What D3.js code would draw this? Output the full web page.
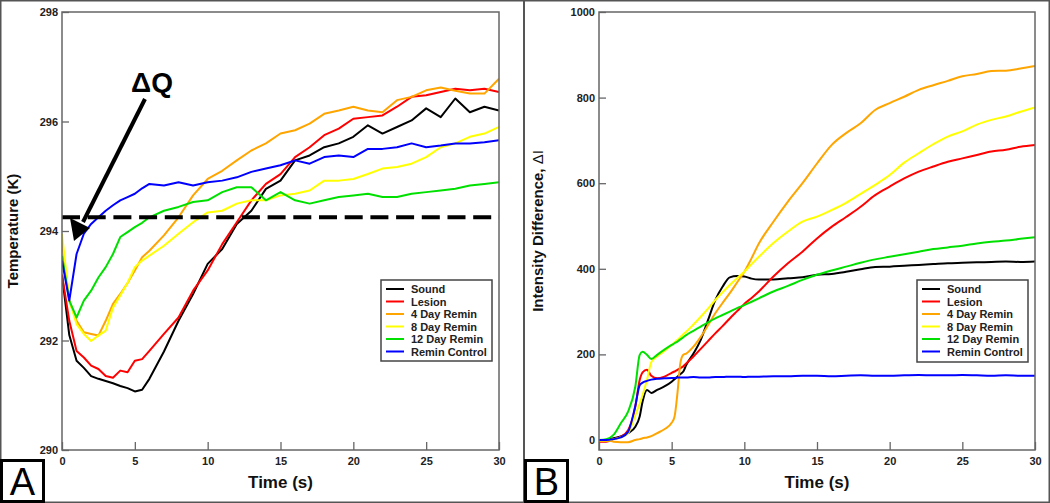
<!DOCTYPE html>
<html><head><meta charset="utf-8">
<script src="https://cdn.jsdelivr.net/npm/d3@7"></script>
<style>
html,body{margin:0;padding:0;background:#fff;}
svg{display:block;font-family:"Liberation Sans",Arial,sans-serif;}
</style></head><body>
<svg id="c" width="1050" height="503"></svg>
<script>
// ---------- DATA ----------
const seriesNames = ["Sound","Lesion","4 Day Remin","8 Day Remin","12 Day Remin","Remin Control"];
const seriesColors = ["#000000","#ff0000","#ffa500","#ffff00","#00e000","#0000ff"];
const xTicks = [0,5,10,15,20,25,30];
const yTicksA = [290,292,294,296,298];
const yTicksB = [0,200,400,600,800,1000];
const thresholdA = 294.25;

// Panel A: temperature (K) vs time (s)
const timeA = [0,0.5,1,1.5,2,2.5,3,3.5,4,4.5,5,5.5,6,7,8,9,10,11,12,13,14,15,16,17,18,19,20,21,22,23,24,25,26,27,28,29,30];
const soundA   = [293.2,292.1,291.63,291.5,291.35,291.3,291.26,291.22,291.17,291.13,291.07,291.1,291.3,291.8,292.36,292.85,293.4,293.67,294.13,294.37,294.77,294.92,295.29,295.38,295.53,295.6,295.72,295.93,295.78,295.9,296.02,296.24,296.08,296.42,296.17,296.27,296.2];
const lesionA  = [293.2,292.36,291.81,291.69,291.54,291.48,291.35,291.32,291.45,291.42,291.63,291.66,291.81,292.12,292.42,292.91,293.28,293.76,294.16,294.56,294.86,295.04,295.35,295.53,295.75,295.87,296.05,296.08,296.11,296.27,296.45,296.48,296.54,296.6,296.57,296.6,296.54];
const remin4A  = [293.8,292.73,292.36,292.15,292.12,292.09,292.36,292.67,292.85,293.05,293.28,293.52,293.64,293.92,294.25,294.65,294.95,295.1,295.29,295.47,295.6,295.78,295.84,295.96,296.14,296.2,296.27,296.2,296.17,296.39,296.45,296.57,296.62,296.56,296.51,296.51,296.78];
const remin8A  = [293.95,292.73,292.3,292.12,291.99,292.09,292.18,292.6,292.82,293.05,293.34,293.46,293.55,293.73,293.95,294.16,294.34,294.37,294.5,294.56,294.56,294.65,294.68,294.74,294.92,294.92,294.95,295.04,295.14,295.17,295.23,295.35,295.53,295.6,295.72,295.78,295.9];
const remin12A = [293.55,292.73,292.42,292.73,292.91,293.15,293.34,293.58,293.89,293.98,294.07,294.15,294.25,294.37,294.44,294.53,294.56,294.71,294.8,294.8,294.56,294.71,294.56,294.5,294.56,294.62,294.65,294.68,294.62,294.62,294.68,294.71,294.74,294.77,294.83,294.86,294.89];
const controlA = [293.46,292.73,293.58,293.95,294.13,294.25,294.37,294.47,294.56,294.62,294.68,294.78,294.86,294.83,294.89,294.83,294.89,294.92,294.98,295.08,295.14,295.2,295.29,295.23,295.35,295.38,295.35,295.5,295.5,295.53,295.6,295.53,295.56,295.6,295.6,295.62,295.66];

// Panel B: intensity difference vs time (s)
const timeB = [0,0.5,1,1.5,2,2.5,2.8,3,3.3,3.6,4,4.5,5,5.2,5.4,5.6,5.8,6,6.5,7,7.5,8,8.5,9,9.5,10,10.5,11,12,13,14,15,16,17,18,19,20,21,22,23,24,25,26,27,28,29,30];
const soundB   = [0,0,4,8,16,31,55,90,117,110,117,125,136,142,148,154,160,175,202,234,280,327,358,380,383,382,377,375,375,378,380,386,388,393,399,404,405,407,409,411,413,414,415,416,417,416,417];
const lesionB  = [-4,-4,2,8,23,78,140,158,164,150,144,148,157,160,164,168,172,179,195,213,231,249,266,284,301,318,332,347,382,413,440,471,498,521,545,572,592,611,627,639,650,658,666,674,678,685,689];
const remin4B  = [0,0,-4,-5,-5,0,2,4,6,9,16,25,40,55,110,180,199,202,218,241,268,296,320,343,368,393,425,459,510,557,600,646,689,717,740,771,787,802,818,829,839,850,855,862,863,868,874];
const remin8B  = [-2,-2,2,6,16,58,85,105,140,182,195,208,222,228,234,240,247,253,270,288,307,327,345,362,378,393,411,428,460,487,510,522,537,554,575,596,619,648,670,691,709,721,737,748,756,767,777];
const remin12B = [0,2,12,39,66,125,199,206,199,189,199,211,222,226,230,235,240,245,255,265,275,284,292,300,308,315,323,331,347,360,374,386,396,405,414,422,428,434,440,446,450,454,459,463,466,470,474];
const controlB = [0,0,2,6,19,80,128,134,138,141,143,144,145,145,146,146,146,146,147,146,146,147,147,148,148,147,148,148,149,149,150,150,149,150,151,150,150,151,152,151,151,152,151,150,151,150,150];

// ---------- DRAW ----------
const svg = d3.select("#c");
const FONT = '"Liberation Sans",Arial,sans-serif';

// outer border + separator
svg.append("rect").attr("x",0.75).attr("y",0.75).attr("width",1048.5).attr("height",501.5)
  .attr("fill","none").attr("stroke","#555").attr("stroke-width",1.5);
svg.append("line").attr("x1",524).attr("x2",524).attr("y1",0).attr("y2",503)
  .attr("stroke","#555").attr("stroke-width",2);

function panel(cfg){
  const g = svg.append("g");
  const x = d3.scaleLinear().domain([0,30]).range([cfg.left,cfg.right]);
  const y = d3.scaleLinear().domain(cfg.ydom).range([cfg.bottom,cfg.top]);
  const clipId = "clip"+cfg.id;
  svg.append("clipPath").attr("id",clipId).append("rect")
    .attr("x",cfg.left).attr("y",cfg.top).attr("width",cfg.right-cfg.left).attr("height",cfg.bottom-cfg.top);

  // axes
  const xa = g.append("g").attr("transform",`translate(0,${cfg.bottom})`)
    .call(d3.axisBottom(x).tickValues(xTicks).tickSize(-8).tickPadding(7).tickFormat(d3.format("d")));
  const ya = g.append("g").attr("transform",`translate(${cfg.left},0)`)
    .call(d3.axisLeft(y).tickValues(cfg.yticks).tickSize(-7).tickPadding(4).tickFormat(d3.format("d")));
  [xa,ya].forEach(a=>{
    a.select(".domain").remove();
    a.selectAll(".tick line").attr("stroke","#666").attr("stroke-width",1.3);
    a.selectAll(".tick text").attr("fill","#222").style("font-family",FONT)
      .style("font-size","11px").style("font-weight","bold");
  });

  // lines
  const lg = g.append("g").attr("clip-path",`url(#${clipId})`);
  const line = d3.line().x((d,i)=>x(cfg.time[i])).y(d=>y(d)).curve(cfg.curve);
  cfg.series.forEach((s,k)=>{
    lg.append("path").datum(s).attr("d",line).attr("fill","none")
      .attr("stroke",seriesColors[k]).attr("stroke-width",2).attr("stroke-linejoin","round");
  });
  if(cfg.extra) cfg.extra(g,x,y);

  // frame
  g.append("rect").attr("x",cfg.left).attr("y",cfg.top).attr("width",cfg.right-cfg.left).attr("height",cfg.bottom-cfg.top)
    .attr("fill","none").attr("stroke","#666").attr("stroke-width",1.5);

  // axis titles
  g.append("text").attr("x",(cfg.left+cfg.right)/2).attr("y",488).attr("text-anchor","middle")
    .style("font-family",FONT).style("font-size","17px").style("font-weight","bold").attr("fill","#111")
    .text("Time (s)");
  const yt = g.append("text").attr("transform",`translate(${cfg.ylabX},231) rotate(-90)`).attr("text-anchor","middle")
    .style("font-family",FONT).style("font-size","15px").style("font-weight","bold").attr("fill","#111");
  cfg.ylabel(yt);

  // legend
  const L = cfg.legend;
  g.append("rect").attr("x",L.x).attr("y",L.y).attr("width",L.w).attr("height",L.h)
    .attr("fill","#fff").attr("stroke","#444").attr("stroke-width",1.5);
  seriesNames.forEach((n,k)=>{
    const yy = L.y+9+k*12.5;
    g.append("line").attr("x1",L.x+5).attr("x2",L.x+23).attr("y1",yy).attr("y2",yy)
      .attr("stroke",seriesColors[k]).attr("stroke-width",2);
    g.append("text").attr("x",L.x+30).attr("y",yy+4).style("font-family",FONT).style("font-size","11px")
      .style("font-weight","bold").attr("fill","#222").text(n);
  });

  // panel letter
  g.append("rect").attr("x",cfg.boxX).attr("y",460.5).attr("width",42).attr("height",41)
    .attr("fill","#fff").attr("stroke","#000").attr("stroke-width",3);
  g.append("text").attr("x",cfg.boxX+21).attr("y",495).attr("text-anchor","middle")
    .style("font-family",FONT).style("font-size","38px").attr("fill","#000").text(cfg.id);
}

panel({
  id:"A", left:62, right:499, top:12, bottom:450, ydom:[290,298], yticks:yTicksA,
  time:timeA, series:[soundA,lesionA,remin4A,remin8A,remin12A,controlA], curve:d3.curveLinear,
  ylabX:18, ylabel:t=>t.text("Temperature (K)"),
  legend:{x:381,y:280,w:111,h:81}, boxX:1.5,
  extra:(g,x,y)=>{
    g.append("line").attr("x1",x(0)).attr("x2",x(30)).attr("y1",y(thresholdA)).attr("y2",y(thresholdA))
      .attr("stroke","#000").attr("stroke-width",4).attr("stroke-dasharray","18,7.7");
    // arrow
    g.append("line").attr("x1",145).attr("y1",99).attr("x2",83).attr("y2",222)
      .attr("stroke","#000").attr("stroke-width",4);
    g.append("path").attr("d","M74,241 L70,218 L90,228 Z").attr("fill","#000");
    g.append("text").attr("x",152).attr("y",92).attr("text-anchor","middle")
      .style("font-family",FONT).style("font-size","28px").style("font-weight","bold").attr("fill","#000").text("ΔQ");
  }
});

panel({
  id:"B", left:599, right:1035, top:12, bottom:450, ydom:[-23.4,1000], yticks:yTicksB,
  time:timeB, series:[soundB,lesionB,remin4B,remin8B,remin12B,controlB], curve:d3.curveMonotoneX,
  ylabX:543, ylabel:t=>{t.append("tspan").text("Intensity Difference, "); t.append("tspan").style("font-weight","normal").text("ΔI");},
  legend:{x:917,y:280,w:111,h:82}, boxX:525.5
});
</script>
</body></html>
